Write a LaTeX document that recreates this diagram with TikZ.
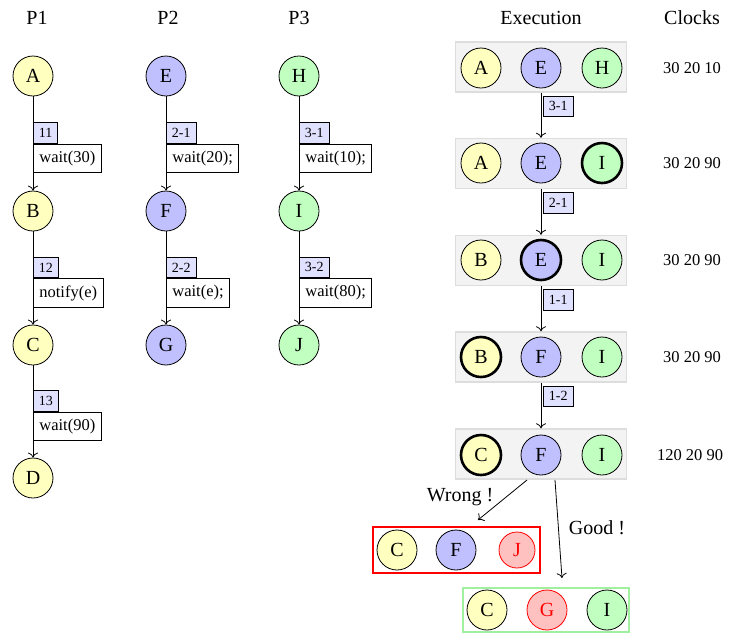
\documentclass[tikz,border=0pt]{standalone}
\usepackage{fontspec}
\setmainfont{Liberation Serif}
\usetikzlibrary{arrows.meta}
\definecolor{pyellow}{HTML}{FFFFC0}
\definecolor{pblue}{HTML}{C0C0FF}
\definecolor{pgreen}{HTML}{C0FFC0}
\definecolor{ppink}{HTML}{FFC0C0}
\definecolor{plav}{HTML}{E0E0FF}
\definecolor{stategray}{HTML}{F3F3F3}
\definecolor{stateedge}{HTML}{DDDDDD}
\definecolor{goodgreen}{HTML}{A0F0A0}
\tikzset{
  proc/.style={circle, draw, line width=0.8pt, minimum size=40pt, inner sep=0pt,
    font=\fontsize{20}{22}\selectfont},
  yel/.style={proc, fill=pyellow},
  blu/.style={proc, fill=pblue},
  grn/.style={proc, fill=pgreen},
  bad/.style={proc, fill=ppink, draw=red, text=red},
  active/.style={line width=2.6pt},
  title/.style={font=\fontsize{20}{22}\selectfont},
  clock/.style={font=\fontsize{16.5}{18}\selectfont},
  stepbox/.style={draw, line width=0.8pt, fill=plav, font=\fontsize{14}{16}\selectfont,
    inner xsep=5.5pt, inner ysep=5.5pt, anchor=south west},
  codebox/.style={draw, line width=0.8pt, fill=white, font=\fontsize{16.5}{18}\selectfont,
    inner xsep=6pt, inner ysep=7pt, anchor=north west},
  execlabel/.style={draw, line width=0.8pt, fill=plav, font=\fontsize{14}{16}\selectfont,
    inner xsep=5.5pt, inner ysep=5.5pt, anchor=north west},
  state/.style={draw=stateedge, fill=stategray, line width=1.5pt,
    minimum width=171pt, minimum height=50pt, inner sep=0pt},
  flow/.style={line width=0.8pt, -{To[length=5pt, width=10pt]}},
  remark/.style={font=\fontsize{20}{22}\selectfont},
}
\begin{document}
\begin{tikzpicture}[x=1pt, y=-1pt]
\useasboundingbox (0,0) rectangle (733,633);

% column titles
\node[title] (tp1) at (37,18) {P1};
\node[title] (tp2) at (168,18) {P2};
\node[title] (tp3) at (299,18) {P3};
\node[title] (tex) at (541,18) {Execution};
\node[title] (tcl) at (692,18) {Clocks};

% process P1
\node[yel] (A) at (33,76) {A};
\node[yel] (B) at (33,211) {B};
\node[yel] (C) at (33,345) {C};
\node[yel] (D) at (33,478) {D};
% process P2
\node[blu] (E) at (166,76) {E};
\node[blu] (F) at (166,211) {F};
\node[blu] (G) at (166,345) {G};
% process P3
\node[grn] (H) at (299,76) {H};
\node[grn] (I) at (299,211) {I};
\node[grn] (J) at (299,345) {J};

\draw[flow] (A) -- (B) node[midway, stepbox] (l11) {11} node[midway, codebox] (c11) {wait(30)};
\draw[flow] (B) -- (C) node[midway, stepbox] (l12) {12} node[midway, codebox] (c12) {notify(e)};
\draw[flow] (C) -- (D) node[midway, stepbox] (l13) {13} node[midway, codebox] (c13) {wait(90)};
\draw[flow] (E) -- (F) node[midway, stepbox] (l21) {2-1} node[midway, codebox] (c21) {wait(20);};
\draw[flow] (F) -- (G) node[midway, stepbox] (l22) {2-2} node[midway, codebox] (c22) {wait(e);};
\draw[flow] (H) -- (I) node[midway, stepbox] (l31) {3-1} node[midway, codebox] (c31) {wait(10);};
\draw[flow] (I) -- (J) node[midway, stepbox] (l32) {3-2} node[midway, codebox] (c32) {wait(80);};

% execution states
\node[state] (s1) at (541,67) {};
\node[yel] (s1a) at (481,68) {A};
\node[blu] (s1b) at (541,68) {E};
\node[grn] (s1c) at (602,68) {H};

\node[state] (s2) at (541,163.5) {};
\node[yel] (s2a) at (481,163) {A};
\node[blu] (s2b) at (541,163) {E};
\node[grn, active] (s2c) at (602,163) {I};

\node[state] (s3) at (541,260.5) {};
\node[yel] (s3a) at (481,260) {B};
\node[blu, active] (s3b) at (541,260) {E};
\node[grn] (s3c) at (602,260) {I};

\node[state] (s4) at (541,357) {};
\node[yel, active] (s4a) at (481,357) {B};
\node[blu] (s4b) at (541,357) {F};
\node[grn] (s4c) at (602,357) {I};

\node[state] (s5) at (541,454) {};
\node[yel, active] (s5a) at (481,455) {C};
\node[blu] (s5b) at (541,455) {F};
\node[grn] (s5c) at (602,455) {I};

\draw[flow] (s1.south) -- (s2.north) node[pos=0, execlabel, xshift=2pt, yshift=-3pt] (e1) {3-1};
\draw[flow] (s2.south) -- (s3.north) node[pos=0, execlabel, xshift=2pt, yshift=-3pt] (e2) {2-1};
\draw[flow] (s3.south) -- (s4.north) node[pos=0, execlabel, xshift=2pt, yshift=-3pt] (e3) {1-1};
\draw[flow] (s4.south) -- (s5.north) node[pos=0, execlabel, xshift=2pt, yshift=-3pt] (e4) {1-2};

% clocks
\node[clock] (k1) at (692,68) {30 20 10};
\node[clock] (k2) at (692,163) {30 20 90};
\node[clock] (k3) at (692,260) {30 20 90};
\node[clock] (k4) at (692,357) {30 20 90};
\node[clock] (k5) at (690,455) {120 20 90};

% wrong successor
\node[draw=red, line width=2pt, minimum width=167pt, minimum height=46pt, inner sep=0pt] (wbox) at (456.5,550) {};
\node[yel] (w1) at (397,550) {C};
\node[blu] (w2) at (456,550) {F};
\node[bad, minimum size=36pt] (w3) at (517,550) {J};

% good successor
\node[draw=goodgreen, line width=2pt, minimum width=166pt, minimum height=44pt, inner sep=0pt] (gbox) at (546,610) {};
\node[yel] (g1) at (487,610) {C};
\node[bad] (g2) at (547,610) {G};
\node[grn] (g3) at (607,610) {I};

\coordinate (wrongstart) at (527,480);
\coordinate (wrongend) at (478,520);
\coordinate (goodstart) at (555,480);
\coordinate (goodend) at (562,578);
\draw[flow] (wrongstart) -- (wrongend);
\draw[flow] (goodstart) -- (goodend);
\node[remark] (wl) at (460,497) {Wrong !};
\node[remark] (gl) at (597,528) {Good !};
\end{tikzpicture}
\end{document}
